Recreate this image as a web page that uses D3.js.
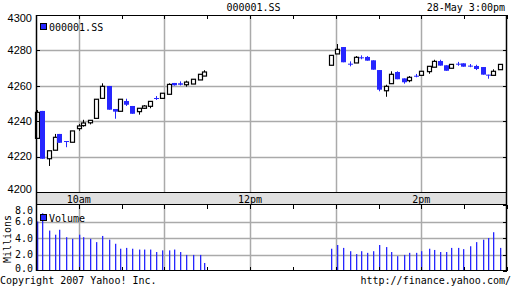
<!DOCTYPE html>
<html>
<head>
<meta charset="utf-8">
<script src="https://cdnjs.cloudflare.com/ajax/libs/d3/7.8.5/d3.min.js"></script>
<style>
  body { margin: 0; background: #fff; }
  text { font-family: "DejaVu Sans Mono", monospace; font-size: 10px; fill: #000; }
</style>
</head>
<body>
<div id="vis"></div>
<script>
// intraday data, 000001.SS, 28-May
var times = ["09:31","09:34","09:39","09:43","09:46","09:51","09:55","10:00","10:03","10:08",
             "10:12","10:16","10:21","10:25","10:29","10:33","10:37","10:42","10:46","10:50",
             "10:54","10:58","11:03","11:07","11:11","11:15","11:20","11:25","11:28",
             "12:57","13:01","13:05","13:10","13:14","13:18","13:22","13:26","13:30","13:35",
             "13:39","13:43","13:48","13:51","13:56","14:00","14:05","14:09","14:13","14:17",
             "14:21","14:26","14:29","14:34","14:38","14:43","14:47","14:50","14:55"];

var open  = [4230.3,4245.8,4218.8,4223.6,4232.8,4228.8,4228.1,4235.8,4237.5,4239.1,
             4241.6,4252.9,4259.9,4246.9,4245.6,4251.4,4248.6,4245.4,4247.3,4248.4,
             4253.1,4252.9,4255.2,4261.6,4261.4,4260.6,4261.0,4263.3,4265.5,
             4271.6,4278.0,4281.9,4272.5,4272.9,4276.1,4276.3,4274.4,4268.9,4257.2,
             4261.2,4267.8,4264.2,4262.9,4265.7,4265.9,4268.0,4270.5,4274.0,4271.6,
             4269.9,4272.5,4272.7,4271.4,4271.2,4270.6,4266.3,4265.9,4269.1];
var high  = [4246.3,4245.8,4223.3,4232.8,4232.8,4228.8,4234.5,4238.4,4240.8,4240.5,
             4252.4,4261.4,4259.9,4246.9,4252.4,4252.7,4248.6,4247.3,4249.1,4251.2,
             4254.2,4255.8,4261.4,4261.6,4262.5,4262.9,4263.7,4266.5,4268.8,
             4277.2,4283.6,4281.9,4273.8,4276.8,4277.2,4276.8,4274.4,4268.9,4260.6,
             4268.2,4268.2,4264.2,4265.5,4266.7,4268.2,4271.0,4274.7,4274.7,4271.6,
             4272.1,4273.5,4272.7,4272.3,4271.9,4270.6,4266.3,4269.3,4272.1];
var low   = [4230.3,4218.8,4214.7,4223.6,4227.8,4225.3,4228.1,4234.6,4236.9,4238.2,
             4241.6,4252.9,4246.5,4241.4,4245.6,4248.6,4244.2,4243.7,4246.9,4247.3,
             4252.0,4252.9,4255.2,4260.1,4260.2,4259.5,4261.0,4263.3,4265.5,
             4271.6,4278.0,4273.3,4271.0,4272.9,4275.0,4274.2,4269.1,4256.9,4253.8,
             4261.2,4263.7,4261.2,4262.0,4264.8,4265.9,4266.8,4270.5,4271.4,4268.5,
             4269.9,4271.3,4270.8,4270.5,4268.9,4266.3,4264.0,4265.9,4269.1];
var close = [4245.0,4218.8,4223.3,4230.9,4227.8,4228.6,4234.5,4237.3,4239.0,4240.5,
             4252.4,4259.7,4246.5,4245.4,4252.4,4249.3,4244.2,4247.3,4248.6,4251.2,
             4253.0,4255.8,4260.8,4260.3,4260.6,4262.1,4263.7,4266.5,4267.8,
             4277.2,4280.6,4273.3,4272.4,4276.1,4276.0,4274.2,4269.1,4257.8,4259.7,
             4266.5,4263.7,4262.0,4264.8,4265.6,4268.2,4271.0,4273.8,4271.4,4268.5,
             4272.1,4272.4,4270.8,4271.3,4269.5,4266.3,4266.2,4268.2,4272.1];
// volume in millions
var volume = [6.0,7.0,4.9,4.4,5.0,4.1,3.9,4.4,4.1,3.9,
              3.5,4.25,3.8,3.3,2.7,2.8,2.7,2.6,2.6,2.6,
              2.3,2.5,2.5,2.6,2.3,1.95,1.95,1.95,0.97,
              2.7,3.15,2.8,2.4,2.05,2.4,2.2,2.4,3.15,2.9,
              2.3,1.8,1.95,2.2,2.2,2.4,2.7,2.55,2.3,2.3,
              2.8,2.8,2.65,3.0,3.5,3.8,4.0,4.7,2.8];

var priceTicks = [4200, 4220, 4240, 4260, 4280, 4300];
var volTicks = [0, 2, 4, 6, 8];
var timeLabels = [{t: "10:00", label: "10am"}, {t: "12:00", label: "12pm"}, {t: "14:00", label: "2pm"}];

var blue = "#2626ff";

// minutes since the open
function mins(s) {
  var p = s.split(":");
  return (+p[0]) * 60 + (+p[1]) - 570;
}

var data = times.map(function(t, i) {
  return {m: mins(t), o: open[i], h: high[i], l: low[i], c: close[i], v: volume[i]};
});

var svg = d3.select("#vis").append("svg")
    .attr("width", 512)
    .attr("height", 288);

var x = d3.scaleLinear().domain([0, 330]).range([36, 507]);
var y = d3.scaleLinear().domain([4200, 4300]).range([192, 15]);
var yv = d3.scaleLinear().domain([0, 8]).range([271, 205]);

var halfHours = d3.range(0, 331, 30);
var hours = [30, 90, 150, 210, 270];

// header
svg.append("text").attr("x", 253.5).attr("y", 11).attr("text-anchor", "middle").text("000001.SS");
svg.append("text").attr("x", 505).attr("y", 11).attr("text-anchor", "end").text("28-May 3:00pm");

// grid lines, price panel
svg.selectAll(".hgrid").data(priceTicks.slice(1, -1)).enter().append("line")
    .attr("x1", 36).attr("x2", 507)
    .attr("y1", function(d) { return Math.round(y(d)) + 0.5; })
    .attr("y2", function(d) { return Math.round(y(d)) + 0.5; })
    .attr("stroke", "#aaa").attr("stroke-width", 1.5);
svg.selectAll(".vgrid").data(hours).enter().append("line")
    .attr("x1", function(d) { return Math.round(x(d)) + 0.5; })
    .attr("x2", function(d) { return Math.round(x(d)) + 0.5; })
    .attr("y1", 15).attr("y2", 192)
    .attr("stroke", "#aaa").attr("stroke-width", 1.5);

// grid lines, volume panel
svg.selectAll(".vhgrid").data([2, 4, 6]).enter().append("line")
    .attr("x1", 36).attr("x2", 507)
    .attr("y1", function(d) { return Math.round(yv(d)) + 0.5; })
    .attr("y2", function(d) { return Math.round(yv(d)) + 0.5; })
    .attr("stroke", "#aaa").attr("stroke-width", 1.5);
svg.selectAll(".vvgrid").data(hours).enter().append("line")
    .attr("x1", function(d) { return Math.round(x(d)) + 0.5; })
    .attr("x2", function(d) { return Math.round(x(d)) + 0.5; })
    .attr("y1", 205).attr("y2", 271)
    .attr("stroke", "#aaa").attr("stroke-width", 1.5);

// volume bars
svg.selectAll(".vol").data(data).enter().append("rect")
    .attr("x", function(d) { return Math.round(x(d.m)); })
    .attr("width", 1.3)
    .attr("y", function(d) { return yv(d.v); })
    .attr("height", function(d) { return yv(0) - yv(d.v); })
    .attr("fill", blue);

// candles
var candle = svg.selectAll(".candle").data(data).enter().append("g");

candle.append("line")
    .attr("x1", function(d) { return Math.round(x(d.m)) + 0.5; })
    .attr("x2", function(d) { return Math.round(x(d.m)) + 0.5; })
    .attr("y1", function(d) { return y(d.h); })
    .attr("y2", function(d) { return Math.max(y(d.l), y(d.h) + 1); })
    .attr("stroke", function(d) { return d.c > d.o ? "#000" : blue; });

candle.append("rect")
    .attr("x", function(d) { return d.c > d.o ? Math.round(x(d.m)) - 1.5 : Math.round(x(d.m)) - 2; })
    .attr("width", function(d) { return d.c > d.o ? 4 : 5; })
    .attr("y", function(d) { return y(Math.max(d.o, d.c)); })
    .attr("height", function(d) { return Math.max(1, Math.abs(y(d.o) - y(d.c))); })
    .attr("fill", function(d) { return d.c > d.o ? "#fff" : blue; })
    .attr("stroke", function(d) { return d.c > d.o ? "#000" : "none"; })
    .attr("stroke-width", 1.2);

// time band between the panels
svg.append("rect").attr("x", 36.5).attr("y", 192.5).attr("width", 470).attr("height", 12)
    .attr("fill", "#e0e0e0").attr("stroke", "#000");
svg.selectAll(".tlabel").data(timeLabels).enter().append("text")
    .attr("x", function(d) { return x(mins(d.t)); })
    .attr("y", 199).attr("dy", "0.35em")
    .attr("text-anchor", "middle")
    .text(function(d) { return d.label; });

// panel borders
svg.append("rect").attr("x", 36.5).attr("y", 15.5).attr("width", 470).attr("height", 177)
    .attr("fill", "none").attr("stroke", "#000");
svg.append("rect").attr("x", 36.5).attr("y", 204.5).attr("width", 470).attr("height", 66)
    .attr("fill", "none").attr("stroke", "#000");
svg.append("line").attr("x1", 36.5).attr("x2", 36.5).attr("y1", 15).attr("y2", 271).attr("stroke", "#000").attr("stroke-width", 1.5);
svg.append("line").attr("x1", 506.5).attr("x2", 506.5).attr("y1", 15).attr("y2", 271).attr("stroke", "#000").attr("stroke-width", 1.5);

// ticks
function tickMarks(vals, x1, x2, y1, y2) {
  svg.append("g").selectAll("line").data(vals).enter().append("line")
      .attr("x1", x1).attr("x2", x2).attr("y1", y1).attr("y2", y2)
      .attr("stroke", "#000");
}
tickMarks(halfHours, function(d) { return Math.round(x(d)) + 0.5; }, function(d) { return Math.round(x(d)) + 0.5; }, 15, 19);
tickMarks(halfHours, function(d) { return Math.round(x(d)) + 0.5; }, function(d) { return Math.round(x(d)) + 0.5; }, 205, 209);
tickMarks(halfHours, function(d) { return Math.round(x(d)) + 0.5; }, function(d) { return Math.round(x(d)) + 0.5; }, 267, 271);
tickMarks(priceTicks, 36, 40, function(d) { return Math.round(y(d)) + 0.5; }, function(d) { return Math.round(y(d)) + 0.5; });
tickMarks(priceTicks, 503, 507, function(d) { return Math.round(y(d)) + 0.5; }, function(d) { return Math.round(y(d)) + 0.5; });
tickMarks(volTicks, 503, 507, function(d) { return Math.round(yv(d)) + 0.5; }, function(d) { return Math.round(yv(d)) + 0.5; });

// y axis labels
svg.selectAll(".plabel").data(priceTicks).enter().append("text")
    .attr("x", 32)
    .attr("y", function(d) { return Math.min(189, Math.max(18, y(d))); })
    .attr("dy", "0.35em")
    .attr("text-anchor", "end")
    .style("font-family", "'Liberation Sans', Arial, sans-serif")
    .style("font-size", "11px")
    .text(function(d) { return d; });
svg.selectAll(".vlabel").data(volTicks).enter().append("text")
    .attr("x", 33)
    .attr("y", function(d) { return Math.min(268, Math.max(210, yv(d))); })
    .attr("dy", "0.35em")
    .attr("text-anchor", "end")
    .text(function(d) { return d3.format(".1f")(d); });
svg.append("text")
    .attr("transform", "translate(11,239) rotate(-90)")
    .attr("text-anchor", "middle")
    .text("Millions");

// legends
svg.append("rect").attr("x", 40.5).attr("y", 23.5).attr("width", 6).attr("height", 6)
    .attr("fill", blue).attr("stroke", "#000");
svg.append("text").attr("x", 49).attr("y", 27).attr("dy", "0.35em").text("000001.SS");
svg.append("rect").attr("x", 40.5).attr("y", 214.5).attr("width", 6).attr("height", 6)
    .attr("fill", blue).attr("stroke", "#000");
svg.append("text").attr("x", 49).attr("y", 218).attr("dy", "0.35em").text("Volume");

// footer
svg.append("text").attr("x", 0).attr("y", 284).text("Copyright 2007 Yahoo! Inc.");
svg.append("text").attr("x", 511).attr("y", 284).attr("text-anchor", "end").text("http://finance.yahoo.com/");
</script>
</body>
</html>
